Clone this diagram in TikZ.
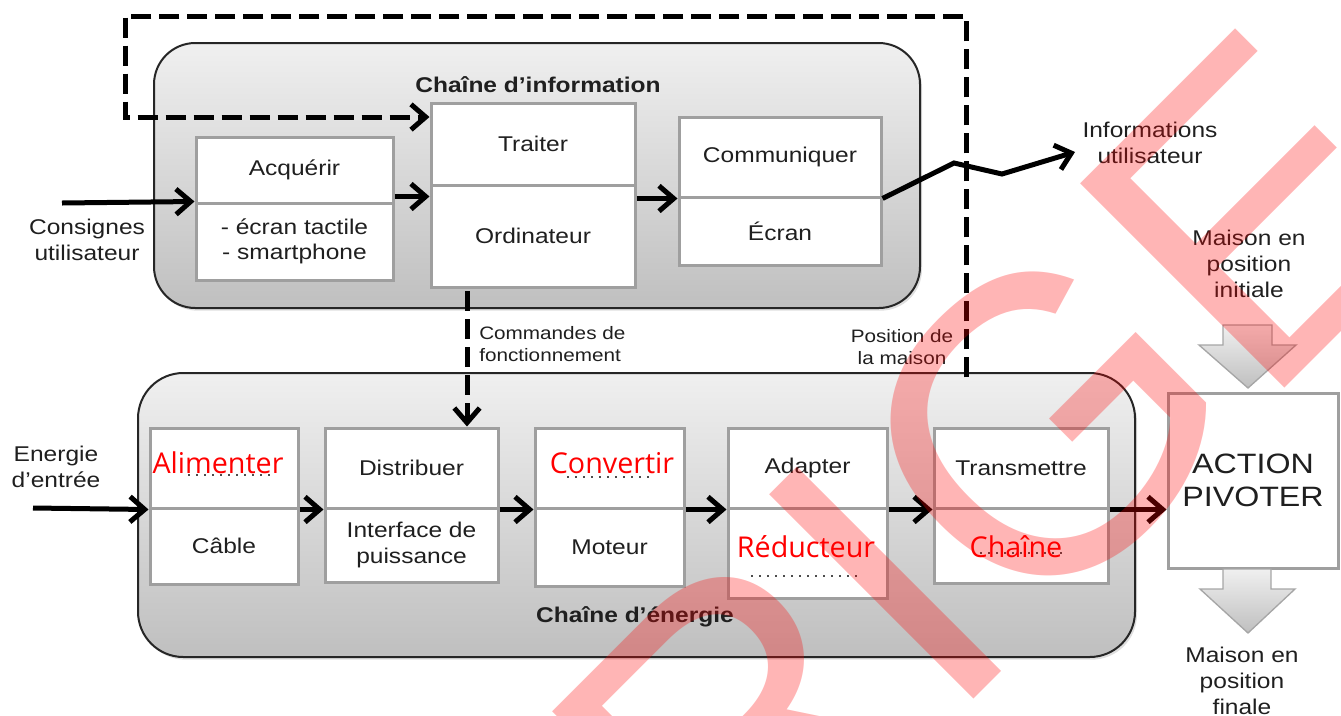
\documentclass[tikz,border=0pt]{standalone}
\usepackage{fontspec}
\setmainfont{Liberation Sans}[FakeStretch=1.15]
\newfontfamily\redfont{Open Sans}
\newfontfamily\wmfont{Liberation Sans}
\usetikzlibrary{arrows.meta,shadows,calc}
\tikzset{
  sz/.style 2 args={minimum width=#1*0.75pt, minimum height=#2*0.75pt},
  cell/.style={draw=gray!75, line width=2.25pt, fill=white, inner sep=0pt, align=center,
    font=\fontsize{16}{19}\selectfont, text=black!88},
  chain/.style={draw=black!85, line width=1.5pt, top color=gray!12, bottom color=gray!50,
    drop shadow={opacity=0.25, shadow xshift=1.5pt, shadow yshift=-2pt}},
  flow/.style={line width=3.75pt, -{Straight Barb[length=11pt,width=19pt]}},
  sig/.style={line width=3.75pt, dash pattern=on 15pt off 6pt, miter limit=4},
  lbl/.style={align=center, inner sep=0pt, text=black!88, font=\fontsize{16}{19.5}\selectfont},
  small/.style={align=center, inner sep=0pt, text=black!88, font=\fontsize{13.5}{16.5}\selectfont},
  ans/.style={text=red, inner sep=0pt, font=\redfont\fontsize{21.5}{24}\selectfont},
  dots/.style={line width=1.6pt, dash pattern=on 1.6pt off 4.4pt, draw=black!70},
  blockarrow/.style={draw=gray!70, line width=1pt, top color=gray!12, bottom color=gray!50},
}
\begin{document}
\begin{tikzpicture}[x=0.75pt, y=-0.75pt]
\useasboundingbox (0,0) rectangle (1341,715);

% containers
\node[chain, rounded corners=31pt, sz={766}{265}] (infoC) at (537,175.5) {};
\node[chain, rounded corners=34pt, sz={997}{284}] (enerC) at (636.5,515) {};
\node[lbl, font=\bfseries\fontsize{16}{19}\selectfont] (infoTitle) at (538,85) {Chaîne d’information};
\node[lbl, font=\bfseries\fontsize{16}{19}\selectfont] (enerTitle) at (635,617) {Chaîne d’énergie};

% information chain cells
\node[cell, sz={197}{66}]  (acqT)   at (294.5,170)   {Acquérir};
\node[cell, sz={197}{77}]  (acqB)   at (294.5,241.5) {- écran tactile\\- smartphone};
\node[cell, sz={204}{82}]  (traitT) at (533,144)     {Traiter};
\node[cell, sz={204}{102}] (traitB) at (533,236)     {Ordinateur};
\node[cell, sz={202}{80}]  (commT)  at (780,157)     {Communiquer};
\node[cell, sz={202}{68}]  (commB)  at (780,231)     {Écran};

% energy chain cells
\node[cell, sz={148}{80}] (alimT)  at (224,468)    {};
\node[cell, sz={148}{76}] (alimB)  at (224,546)    {Câble};
\node[cell, sz={173}{80}] (distT)  at (411.5,468)  {Distribuer};
\node[cell, sz={173}{74}] (distB)  at (411.5,545)  {Interface de\\puissance};
\node[cell, sz={149}{80}] (convT)  at (609.5,468)  {};
\node[cell, sz={149}{78}] (convB)  at (609.5,547)  {Moteur};
\node[cell, sz={159}{80}] (adapT)  at (807.5,468)  {Adapter};
\node[cell, sz={159}{90}] (adapB)  at (807.5,553)  {};
\node[cell, sz={174}{80}] (transT) at (1021,468)   {Transmettre};
\node[cell, sz={174}{75}] (transB) at (1021,545.5) {};
\node[cell, sz={170}{175}, font=\fontsize{21}{25}\selectfont] (action) at (1253,480.5) {ACTION\\PIVOTER};

% answers (red)
\node[ans] (alimTxt)  at (218,463)  {Alimenter};
\node[ans] (convTxt)  at (612,463)  {Convertir};
\node[ans] (redTxt)   at (806,547)  {Réducteur};
\node[ans] (chaineTxt) at (1016,547) {Chaîne};
\draw[dots] (188,475) -- (275,475);
\draw[dots] (567,477) -- (654,477);
\draw[dots] (751,576) -- (862,576);
\draw[dots] (980,553) -- (1064,553);

% outside labels
\node[lbl] (consignes) at (87,240)  {Consignes\\utilisateur};
\node[lbl, font=\fontsize{16}{20}\selectfont] (infoOut) at (1150,143) {Informations\\utilisateur};
\node[lbl] (energie)   at (56,467)  {Energie\\d’entrée};
\node[small, anchor=west, align=left] (cmdLbl) at (479,344) {Commandes de\\fonctionnement};
\node[small] (posLbl) at (902,347) {Position de\\la maison};
\node[lbl] (maisonI) at (1249,264) {Maison en\\position\\initiale};
\node[lbl] (maisonF) at (1242,681) {Maison en\\position\\finale};

% coordinates for free ends
\coordinate (consIn) at (62,203);
\coordinate (enIn) at (33,508);
\coordinate (hop1) at (954,163);
\coordinate (hop2) at (1002,174);
\coordinate (outEnd) at (1075,152);
\coordinate (cmdX) at (467,0);
\coordinate (fbA) at (966,16);
\coordinate (fbB) at (125,16);
\coordinate (fbC) at (125,117);

% information flow
\draw[flow] (consIn) -- (acqB.north west);
\draw[flow] ([yshift=3.75pt]acqB.north east) -- ([yshift=3.75pt]acqB.north east -| traitB.west);
\draw[flow] (commT.south west -| traitB.east) -- (commT.south west);
\draw[flow, line join=miter] (commT.south east) -- (hop1) -- (hop2) -- (outEnd);

% energy flow
\draw[flow] (enIn) -- (alimT.south west);
\draw[flow] (alimT.south east) -- (distT.south west);
\draw[flow] (distT.south east) -- (convT.south west);
\draw[flow] (convT.south east) -- (adapT.south west);
\draw[flow] (adapT.south east) -- (transT.south west);
\draw[flow] (transT.south east) -- (action.west |- transT.south east);

% dashed signals
\draw[sig, -{Straight Barb[length=11pt,width=19pt]}] ([yshift=-2pt]traitB.south -| cmdX) -- (distT.north -| cmdX);
\draw[sig, line join=miter, -{Straight Barb[length=11pt,width=19pt]}] ([yshift=-4pt]enerC.north -| fbA) -- (fbA) -- (fbB) -- (fbC) -- (fbC -| traitT.west);

% grey block arrows
\path[blockarrow] (1223,325) -- (1272,325) -- (1272,345) -- (1296,345) -- (1248,388) -- (1199,345) -- (1223,345) -- cycle;
\path[blockarrow] (1223,569) -- (1271,569) -- (1271,589) -- (1295,589) -- (1248,633) -- (1200,589) -- (1223,589) -- cycle;

% watermark
\begin{scope}
\clip (0,0) rectangle (1341,715);
\node[rotate=45, anchor=base west, inner sep=0pt, text=red, text opacity=0.29,
  font=\wmfont\fontsize{315}{315}\selectfont] (wm) at (72,1601) {CORRIGE};
\end{scope}
\end{tikzpicture}
\end{document}
